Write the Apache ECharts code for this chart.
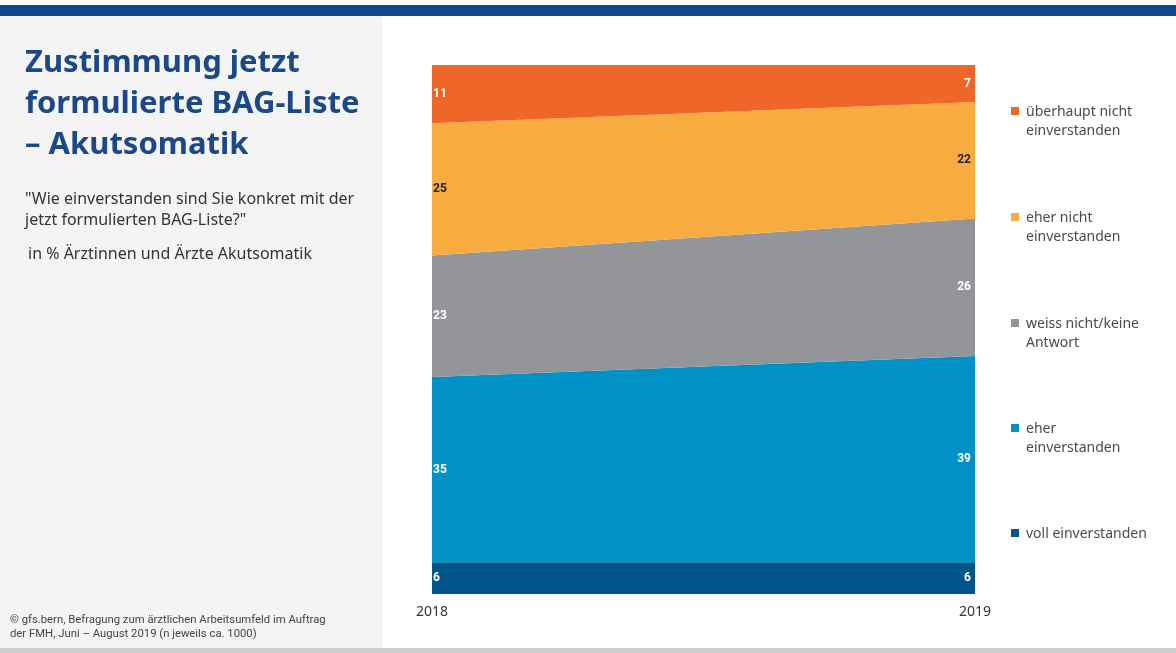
<!DOCTYPE html>
<html>
<head>
<meta charset="utf-8">
<script src="https://cdn.jsdelivr.net/npm/echarts@6/dist/echarts.min.js"></script>
<style>
  html, body { margin: 0; padding: 0; background: #fff; }
  #main { width: 1176px; height: 653px; }
</style>
</head>
<body>
<div id="main"></div>
<script>
// Daten
var years = ['2018', '2019'];
var seriesNames = ['voll einverstanden', 'eher\neinverstanden', 'weiss nicht/keine\nAntwort', 'eher nicht\neinverstanden', 'überhaupt nicht\neinverstanden'];
var vollEinverstanden = [6, 6];
var eherEinverstanden = [35, 39];
var weissNicht = [23, 26];
var eherNicht = [25, 22];
var ueberhauptNicht = [11, 7];
var colors = ['#00558a', '#0091c6', '#939598', '#f8ac40', '#ef6629'];
var labelColors = ['#fff', '#fff', '#fff', '#222', '#fff'];

var gridTop = 65, gridBottom = 594;
var pxPerUnit = (gridBottom - gridTop) / 100;

var chartDom = document.getElementById('main');
var myChart = echarts.init(chartDom);

function makeSeries(idx, values) {
    return {
        name: seriesNames[idx],
        type: 'line',
        stack: 'total',
        symbol: 'circle',
        symbolSize: 0,
        showSymbol: true,
        lineStyle: { width: 0 },
        areaStyle: { color: colors[idx], opacity: 1 },
        itemStyle: { color: colors[idx] },
        silent: true,
        z: 2,
        data: values.map(function (v, i) {
            return {
                value: v,
                label: {
                    show: true,
                    position: i === 0 ? 'right' : 'left',
                    distance: i === 0 ? 1 : 4,
                    offset: [0, v * pxPerUnit / 2],
                    color: labelColors[idx],
                    fontSize: 12,
                    fontFamily: 'Liberation Sans Narrow, Roboto, sans-serif',
                    fontWeight: 'bold'
                }
            };
        })
    };
}

// legende rechts (icon an erster zeile)
var legendTop = [103, 209, 315, 420, 525];
var legendGraphics = [];
for (var k = 0; k < 5; k++) {
    var idx = 4 - k;
    legendGraphics.push({
        type: 'rect', left: 1011, top: legendTop[k] + 4,
        shape: { width: 8, height: 8 }, style: { fill: colors[idx] }
    });
    legendGraphics.push({
        type: 'text', left: 1026, top: legendTop[k],
        style: {
            text: seriesNames[idx], fill: '#4a4a4a', fontSize: 14, lineHeight: 19,
            fontFamily: 'Noto Sans, sans-serif'
        }
    });
}

var option = {
    animation: false,
    backgroundColor: '#fff',
    grid: { left: 432, right: 201, top: gridTop, bottom: 653 - gridBottom },
    xAxis: {
        type: 'category',
        boundaryGap: false,
        data: years,
        axisLine: { show: false },
        axisTick: { show: false },
        axisLabel: { color: '#333', fontSize: 14, margin: 11, fontFamily: 'Noto Sans, sans-serif' }
    },
    yAxis: {
        type: 'value', min: 0, max: 100, show: false, splitLine: { show: false }
    },
    graphic: [
        { type: 'rect', left: 0, top: 16, z: -10, shape: { width: 382, height: 632 }, style: { fill: '#f4f4f4' } },
        { type: 'rect', left: 0, top: 5, shape: { width: 1176, height: 11 }, style: { fill: '#0f4a91' } },
        { type: 'rect', left: 0, top: 648, shape: { width: 1176, height: 5 }, style: { fill: '#cfcfcf' } },
        {
            type: 'text', left: 25, top: 43,
            style: {
                text: 'Zustimmung jetzt\nformulierte BAG-Liste\n– Akutsomatik',
                fill: '#1c4887', fontSize: 31, fontWeight: 'bold', lineHeight: 41,
                fontFamily: 'Noto Sans, sans-serif'
            }
        },
        {
            type: 'text', left: 25, top: 189,
            style: {
                text: '"Wie einverstanden sind Sie konkret mit der\njetzt formulierten BAG-Liste?"',
                fill: '#333', fontSize: 16, lineHeight: 21,
                fontFamily: 'Noto Sans, sans-serif'
            }
        },
        {
            type: 'text', left: 28, top: 246,
            style: {
                text: 'in % Ärztinnen und Ärzte Akutsomatik',
                fill: '#333', fontSize: 16, fontFamily: 'Noto Sans, sans-serif'
            }
        },
        {
            type: 'text', left: 10, top: 613,
            style: {
                text: '© gfs.bern, Befragung zum ärztlichen Arbeitsumfeld im Auftrag\nder FMH, Juni – August 2019 (n jeweils ca. 1000)',
                fill: '#444', fontSize: 11.3, lineHeight: 14,
                fontFamily: 'Liberation Sans Narrow, Roboto, sans-serif'
            }
        }
    ].concat(legendGraphics),
    series: [
        makeSeries(0, vollEinverstanden),
        makeSeries(1, eherEinverstanden),
        makeSeries(2, weissNicht),
        makeSeries(3, eherNicht),
        makeSeries(4, ueberhauptNicht)
    ]
};

option && myChart.setOption(option);
</script>
</body>
</html>
